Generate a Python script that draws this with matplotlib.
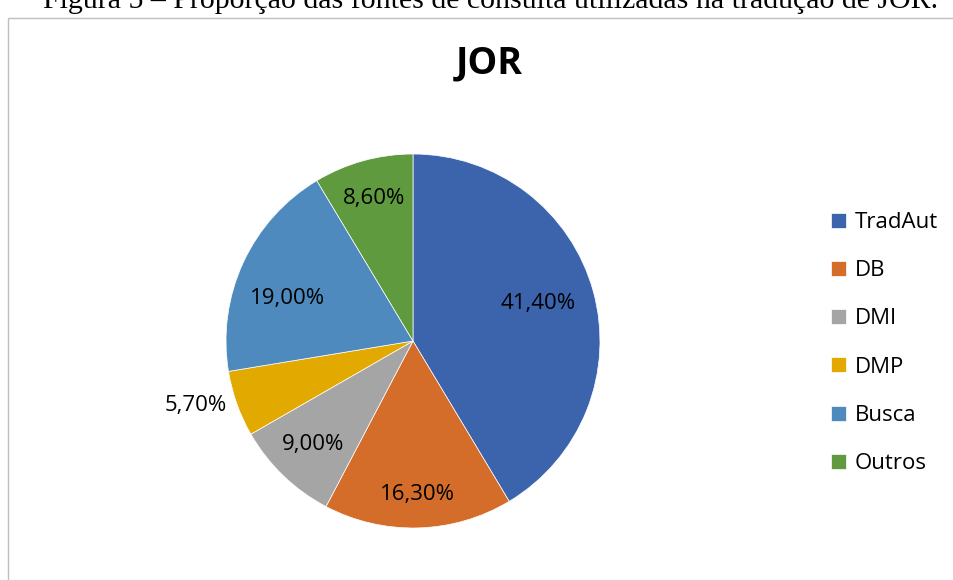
import numpy as np
import matplotlib.pyplot as plt
from matplotlib.patches import Rectangle

# data
categories = ["TradAut", "DB", "DMI", "DMP", "Busca", "Outros"]
values = [41.4, 16.3, 9.0, 5.7, 19.0, 8.6]
pct_labels = ["41,40%", "16,30%", "9,00%", "5,70%", "19,00%", "8,60%"]
colors = ["#3C64AD", "#D46D2A", "#A5A5A5", "#E2AA00", "#4E8ABE", "#5F9B3E"]

# radial position of each percent label (fraction of radius) and angle shift
label_r = [0.70, 0.82, 0.77, 1.21, 0.71, 0.79]
label_shift = [1, 0, 0, -3, 6, 0]

W, H = 954, 580
fig = plt.figure(figsize=(W / 100, H / 100), dpi=100)

# caption of the document, cut by the top edge
fig.text(491 / W, 1 - 8 / H,
         "Figura 5 – Proporção das fontes de consulta utilizadas na tradução de JOR.",
         ha="center", va="baseline", fontsize=21.5, family="Liberation Serif")

# chart area border (only left and top visible)
fig.patches.append(Rectangle((8 / W, -0.1), 2.0, 1 - 18 / H + 0.1,
                             transform=fig.transFigure, fill=False,
                             edgecolor="#BFBFBF", linewidth=1.0))

fig.text(489 / W, 1 - 63 / H, "JOR", ha="center", va="center",
         fontsize=27, fontweight="bold", family="Open Sans")

# pie: centre (413, 341), radius 187 px
cx, cy, r = 413, 341, 187
ax = fig.add_axes([(cx - r) / W, 1 - (cy + r) / H, 2 * r / W, 2 * r / H])
wedges, _ = ax.pie(values, colors=colors, startangle=90, counterclock=False,
                   wedgeprops=dict(edgecolor="white", linewidth=0.5))
ax.set_aspect("equal")
ax.set_xlim(-1, 1)
ax.set_ylim(-1, 1)

for w, lab, f, s in zip(wedges, pct_labels, label_r, label_shift):
    ang = np.deg2rad((w.theta1 + w.theta2) / 2 + s)
    ax.text(f * np.cos(ang), f * np.sin(ang), lab, ha="center", va="center",
            fontsize=16, family="Open Sans", color="black", clip_on=False)

# legend
leg = fig.legend(wedges, categories, loc="upper left",
                 bbox_to_anchor=(811 / W, 1 - 192 / H), frameon=False,
                 prop=dict(family="Open Sans", size=16),
                 handlelength=0.66, handleheight=0.66, handletextpad=0.4,
                 labelspacing=1.225)

fig.savefig("out.png", dpi=100)
